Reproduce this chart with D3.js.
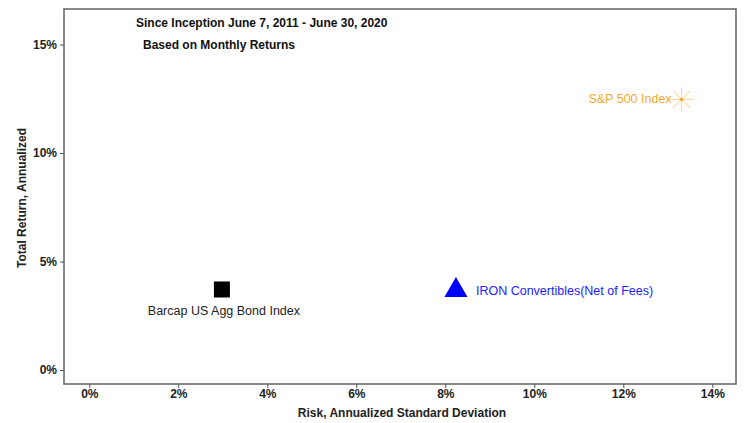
<!DOCTYPE html>
<html>
<head>
<meta charset="utf-8">
<script src="https://cdn.jsdelivr.net/npm/d3@7"></script>
<style>
  body { margin: 0; background: #fff; }
  svg text { font-family: "Liberation Sans", Arial, sans-serif; }
</style>
</head>
<body>
<svg id="chart" width="744" height="423"></svg>
<script>
// Risk / return scatter

var names = ["S&P 500 Index", "Barcap US Agg Bond Index", "IRON Convertibles(Net of Fees)"];
var risk = [13.31, 2.98, 8.24];        // annualized std dev, %
var ret = [12.47, 3.71, 3.72];         // annualized return, %
var xTicks = [0, 2, 4, 6, 8, 10, 12, 14];
var yTicks = [0, 5, 10, 15];
var titleLines = ["Since Inception June 7, 2011 - June 30, 2020", "Based on Monthly Returns"];

var svg = d3.select("#chart");
var box = { left: 64, top: 9, right: 736, bottom: 384 };

var x = d3.scaleLinear().domain([0, 14]).range([89.3, 712.3]);
var y = d3.scaleLinear().domain([0, 15]).range([370, 44.5]);

// frame
svg.append("rect")
    .attr("x", box.left).attr("y", box.top)
    .attr("width", box.right - box.left).attr("height", box.bottom - box.top)
    .attr("fill", "none").attr("stroke", "#6b6b6b").attr("stroke-width", 1.6);

// axes
var xAxis = d3.axisBottom(x).tickValues(xTicks).tickSize(4).tickPadding(1)
    .tickFormat(function(d) { return d + "%"; });
var gx = svg.append("g").attr("transform", "translate(0," + box.bottom + ")").call(xAxis);
gx.select(".domain").remove();

var yAxis = d3.axisLeft(y).tickValues(yTicks).tickSize(4).tickPadding(3)
    .tickFormat(function(d) { return d + "%"; });
var gy = svg.append("g").attr("transform", "translate(" + box.left + ",0)").call(yAxis);
gy.select(".domain").remove();

svg.selectAll(".tick line").attr("stroke", "#555").attr("stroke-width", 1);
svg.selectAll(".tick text")
    .attr("fill", "#222")
    .style("font-family", "'Liberation Sans', Arial, sans-serif")
    .style("font-size", "12px")
    .style("font-weight", "bold");

// axis titles
svg.append("text")
    .attr("x", 402).attr("y", 417)
    .attr("text-anchor", "middle")
    .style("font-size", "12px").style("font-weight", "bold")
    .attr("fill", "#222")
    .text("Risk, Annualized Standard Deviation");

svg.append("text")
    .attr("transform", "translate(26,198) rotate(-90)")
    .attr("text-anchor", "middle")
    .style("font-size", "12px").style("font-weight", "bold")
    .attr("fill", "#222")
    .text("Total Return, Annualized");

// titles
svg.selectAll("text.title")
    .data(titleLines)
    .enter()
    .append("text")
    .attr("class", "title")
    .attr("x", function(d, i) { return i === 0 ? 136 : 143; })
    .attr("y", function(d, i) { return 27 + i * 22; })
    .style("font-size", "12px").style("font-weight", "bold")
    .attr("fill", "#111")
    .text(function(d) { return d; });

// S&P 500 star
var sx = x(risk[0]), sy = y(ret[0]);
var star = svg.append("g").attr("transform", "translate(" + sx + "," + sy + ")");
d3.range(8).forEach(function(k) {
  var a = k * Math.PI / 4;
  star.append("line")
      .attr("x1", 0).attr("y1", 0)
      .attr("x2", 12 * Math.cos(a)).attr("y2", 12 * Math.sin(a))
      .attr("stroke", "#ffd9a0").attr("stroke-width", 1.2);
});
star.append("circle").attr("r", 1.6).attr("fill", "#f5a623");
svg.append("text")
    .attr("x", sx - 10).attr("y", sy + 4)
    .attr("text-anchor", "end")
    .style("font-size", "12.5px")
    .attr("fill", "#f7a930")
    .text(names[0]);

// Barcap square
var bx = x(risk[1]), by = y(ret[1]);
svg.append("rect")
    .attr("x", bx - 8).attr("y", by - 8)
    .attr("width", 16).attr("height", 16)
    .attr("fill", "#000");
svg.append("text")
    .attr("x", bx + 2).attr("y", by + 26)
    .attr("text-anchor", "middle")
    .style("font-size", "12.5px")
    .attr("fill", "#222")
    .text(names[1]);

// IRON triangle
var ix = x(risk[2]), iy = y(ret[2]);
svg.append("path")
    .attr("d", d3.symbol().type(d3.symbolTriangle).size(230)())
    .attr("transform", "translate(" + ix + "," + (iy + 1) + ")")
    .attr("fill", "#0000ff");
svg.append("text")
    .attr("x", ix + 20).attr("y", iy + 6)
    .style("font-size", "12.5px")
    .attr("fill", "#2222ff")
    .text(names[2]);
</script>
</body>
</html>
